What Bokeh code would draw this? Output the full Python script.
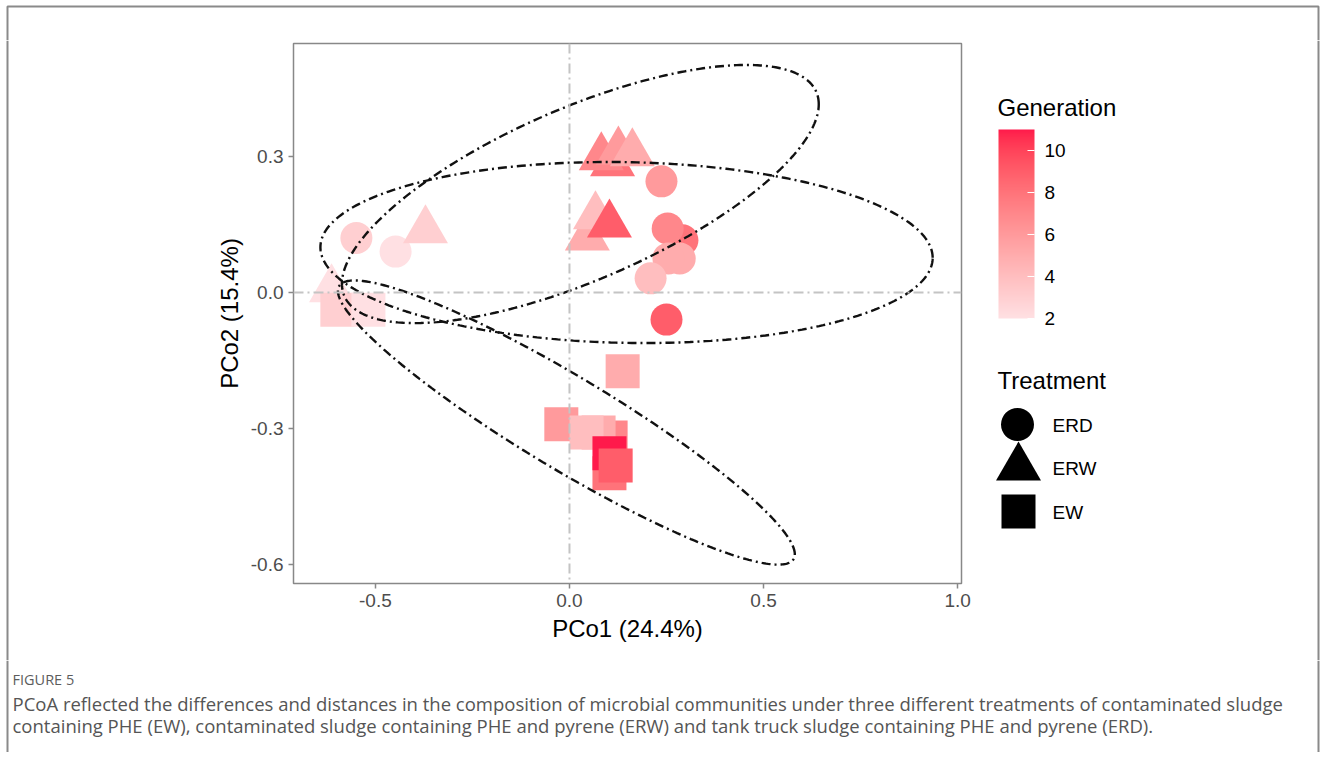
import numpy as np
from bokeh.plotting import figure
from bokeh.layouts import column, row
from bokeh.models import (Range1d, FixedTicker, PrintfTickFormatter, Span, Label, ColorBar,
                          LinearColorMapper, ColumnDataSource, BoxAnnotation)
from bokeh.embed import file_html
from bokeh.resources import INLINE

# ---------------- data ----------------
# ERD (circles)
erd_pc1 = [-0.549, -0.448, 0.237, 0.291, 0.253, 0.284, 0.255, 0.209, 0.250]
erd_pc2 = [0.120, 0.090, 0.245, 0.115, 0.141, 0.075, 0.075, 0.031, -0.060]
erd_gen = [3, 2, 6, 8, 7, 5, 5, 4, 9]
# ERW (triangles)
erw_pc1 = [-0.613, -0.371, 0.111, 0.082, 0.126, 0.162, 0.046, 0.067, 0.103]
erw_pc2 = [0.007, 0.137, 0.285, 0.298, 0.311, 0.307, 0.121, 0.168, 0.150]
erw_gen = [2, 3, 8, 7, 6, 5, 5, 4, 9]
# EW (squares)
ew_pc1 = [-0.598, -0.518, 0.137, -0.021, 0.106, 0.075, 0.044, 0.103, 0.103, 0.119]
ew_pc2 = [-0.038, -0.038, -0.174, -0.291, -0.320, -0.309, -0.309, -0.399, -0.355, -0.382]
ew_gen = [3, 2, 5, 6, 7, 5, 4, 8, 11, 9]

# 95% ellipses per treatment: centre and shape (covariance-like) matrix
ell_group = ["ERD", "ERW", "EW"]
ell_cx = [0.147, 0.028, -0.008]
ell_cy = [0.088, 0.217, -0.287]
ell_sxx = [0.6220, 0.3773, 0.3464]
ell_syy = [0.03986, 0.08104, 0.0982]
ell_sxy = [-0.00921, 0.1216, -0.1709]

x_ticks = [-0.5, 0.0, 0.5, 1.0]
y_ticks = [-0.6, -0.3, 0.0, 0.3]
gen_ticks = [2, 4, 6, 8, 10]
treatments = ["ERD", "ERW", "EW"]
treatment_markers = ["circle", "triangle", "square"]

caption_head = "FIGURE 5"
caption_lines = [
    "PCoA reflected the differences and distances in the composition of microbial communities under three different treatments of contaminated sludge",
    "containing PHE (EW), contaminated sludge containing PHE and pyrene (ERW) and tank truck sludge containing PHE and pyrene (ERD).",
]

FONT = "Liberation Sans"
CAP_FONT = "Open Sans"
BORDER = "#8a8a8a"

# page layout (pixels)
W, H = 1320, 752
TOP_H, MID_H = 40, 620
LEFT_W, MAIN_W = 10, 965
SIDE_W = W - LEFT_W - MAIN_W
CAP_H = H - TOP_H - MID_H
MARKER_SIZE = {"circle": 32, "triangle": 45, "square": 34}
KEY_SIZE = {"circle": 33, "triangle": 45, "square": 34}


# ---------------- colour gradient (Lab interpolation like ggplot) ----------------
_M = np.array([[0.4124, 0.3576, 0.1805], [0.2126, 0.7152, 0.0722], [0.0193, 0.1192, 0.9505]])
_W = (0.95047, 1.0, 1.08883)


def _to_lin(c):
    return c / 12.92 if c <= 0.04045 else ((c + 0.055) / 1.055) ** 2.4


def _from_lin(c):
    return 12.92 * c if c <= 0.0031308 else 1.055 * c ** (1 / 2.4) - 0.055


def _f(t):
    return t ** (1 / 3) if t > 0.008856 else 7.787 * t + 16 / 116


def _finv(t):
    return t ** 3 if t ** 3 > 0.008856 else (t - 16 / 116) / 7.787


def hex_to_lab(h):
    h = h.lstrip("#")
    rgb = [int(h[i:i + 2], 16) / 255 for i in (0, 2, 4)]
    xyz = _M @ np.array([_to_lin(c) for c in rgb])
    fx, fy, fz = [_f(xyz[i] / _W[i]) for i in range(3)]
    return np.array([116 * fy - 16, 500 * (fx - fy), 200 * (fy - fz)])


def lab_to_hex(lab):
    L, a, b = lab
    fy = (L + 16) / 116
    fx = fy + a / 500
    fz = fy - b / 200
    xyz = np.array([_finv(fx) * _W[0], _finv(fy) * _W[1], _finv(fz) * _W[2]])
    lin = np.linalg.inv(_M) @ xyz
    rgb = [min(1.0, max(0.0, _from_lin(c))) for c in lin]
    return "#%02x%02x%02x" % tuple(int(round(c * 255)) for c in rgb)


lo, hi = hex_to_lab("#FFE0E3"), hex_to_lab("#FF1A4B")
palette = [lab_to_hex(lo + (hi - lo) * t) for t in np.linspace(0, 1, 256)]
all_gen = erd_gen + erw_gen + ew_gen
mapper = LinearColorMapper(palette=palette, low=min(all_gen), high=max(all_gen))


def no_align(f):
    if "frame_align" in f.properties():
        f.frame_align = False
    return f


def blank(width, height, x0, x1, y0, y1):
    """Figure whose frame fills its canvas, in page-pixel coordinates (y down)."""
    f = figure(width=width, height=height, output_backend="svg", toolbar_location=None,
               x_range=Range1d(x0, x1), y_range=Range1d(y1, y0), min_border=0,
               x_axis_location=None, y_axis_location=None,
               background_fill_color="white", border_fill_color="white")
    f.grid.visible = False
    f.outline_line_color = None
    return no_align(f)


# ---------------- main plot ----------------
p = figure(width=MAIN_W, height=MID_H, output_backend="svg", toolbar_location=None,
           x_range=Range1d(-0.711, 1.010), y_range=Range1d(-0.642, 0.549),
           min_border_left=283, min_border_right=MAIN_W - 283 - 668, min_border_top=3,
           min_border_bottom=MID_H - 3 - 540,
           background_fill_color="white", border_fill_color="white")
no_align(p)
p.xgrid.visible = False
p.ygrid.visible = False
p.outline_line_color = "#888888"
p.outline_line_width = 1.5

fill = {"field": "g", "transform": mapper}
for xs, ys, gs, mk in ((erd_pc1, erd_pc2, erd_gen, "circle"),
                       (erw_pc1, erw_pc2, erw_gen, "triangle"),
                       (ew_pc1, ew_pc2, ew_gen, "square")):
    p.scatter("x", "y", source=ColumnDataSource(dict(x=xs, y=ys, g=gs)),
              marker=mk, size=MARKER_SIZE[mk], fill_color=fill, line_color=None)

t = np.linspace(0, 2 * np.pi, 361)
for cx, cy, sxx, syy, sxy in zip(ell_cx, ell_cy, ell_sxx, ell_syy, ell_sxy):
    L = np.linalg.cholesky(np.array([[sxx, sxy], [sxy, syy]]))
    pts = L @ np.vstack([np.cos(t), np.sin(t)])
    p.line(cx + pts[0], cy + pts[1], line_color="#111111", line_width=2.4, line_dash="9 4 2 4")

for dim in ("width", "height"):
    p.add_layout(Span(location=0, dimension=dim, line_color="#c4c4c4", line_width=2,
                      line_dash="10 4 2 4"))

p.xaxis.ticker = FixedTicker(ticks=x_ticks)
p.yaxis.ticker = FixedTicker(ticks=y_ticks)
p.xaxis.formatter = PrintfTickFormatter(format="%.1f")
p.yaxis.formatter = PrintfTickFormatter(format="%.1f")
p.xaxis.axis_label = "PCo1 (24.4%)"
p.yaxis.axis_label = "PCo2 (15.4%)"
for ax in (p.xaxis, p.yaxis):
    ax.axis_line_color = None
    ax.major_tick_line_color = "#888888"
    ax.major_tick_line_width = 1.5
    ax.major_tick_out = 5
    ax.major_tick_in = 0
    ax.minor_tick_line_color = None
    ax.major_label_text_font = FONT
    ax.major_label_text_font_size = "19px"
    ax.major_label_text_color = "#4d4d4d"
    ax.axis_label_text_font = FONT
    ax.axis_label_text_font_size = "24px"
    ax.axis_label_text_font_style = "normal"
    ax.axis_label_text_color = "black"
    ax.major_label_standoff = 5
    ax.axis_label_standoff = 5

# ---------------- side panel: legends ----------------
x_side0 = LEFT_W + MAIN_W
side = blank(SIDE_W, MID_H, x_side0, W, TOP_H, TOP_H + MID_H)
cb = ColorBar(color_mapper=mapper, location=(998 - x_side0, TOP_H + MID_H - 318),
              width=36, height=189, padding=0, margin=0,
              ticker=FixedTicker(ticks=gen_ticks), major_label_text_font=FONT,
              major_label_text_font_size="19px", major_label_text_color="black",
              major_tick_line_color="white", major_tick_in=7, major_tick_out=0,
              label_standoff=10, bar_line_color=None, border_line_color=None,
              background_fill_color=None)
side.add_layout(cb)
side.add_layout(Label(x=997, y=107, text="Generation", text_font=FONT, text_font_size="24px",
                      text_color="black", text_baseline="middle"))
side.add_layout(Label(x=997, y=380, text="Treatment", text_font=FONT, text_font_size="24px",
                      text_color="black", text_baseline="middle"))
key_x = [1017, 1018, 1018]
key_y = [424, 467, 511]
for name, mk, kx, ky in zip(treatments, treatment_markers, key_x, key_y):
    side.scatter([kx], [ky], marker=mk, size=KEY_SIZE[mk], fill_color="black", line_color=None)
    side.add_layout(Label(x=1052, y=ky + 1, text=name, text_font=FONT, text_font_size="19px",
                          text_color="black", text_baseline="middle"))
side.add_layout(Span(location=1318, dimension="height", line_color=BORDER, line_width=2))

# ---------------- border strips ----------------
top = blank(W, TOP_H, 0, W, 0, TOP_H)
top.add_layout(BoxAnnotation(left=7, right=1318, top=6, bottom=H + 50, fill_color=None,
                             fill_alpha=0, line_color=BORDER, line_alpha=1.0, line_width=2))
left = blank(LEFT_W, MID_H, 0, LEFT_W, TOP_H, TOP_H + MID_H)
left.add_layout(Span(location=7, dimension="height", line_color=BORDER, line_width=2))

# ---------------- caption ----------------
cap = blank(W, CAP_H, 0, W, TOP_H + MID_H, H)
cap.add_layout(Span(location=7, dimension="height", line_color=BORDER, line_width=2))
cap.add_layout(Span(location=1318, dimension="height", line_color=BORDER, line_width=2))
cap.add_layout(Label(x=12, y=679, text=caption_head, text_font=CAP_FONT, text_font_size="14.5px",
                     text_color="#5c5c5c", text_baseline="middle"))
for yy, line in zip((703, 725), caption_lines):
    cap.add_layout(Label(x=12, y=yy, text=line, text_font=CAP_FONT, text_font_size="18.5px",
                         text_color="#555555", text_baseline="middle"))

page = column(top, row(left, p, side, spacing=0), cap, spacing=0)
open("out.html", "w").write(file_html(page, INLINE))
